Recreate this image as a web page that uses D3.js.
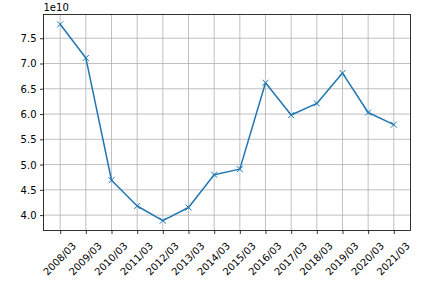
<!DOCTYPE html>
<html lang="en">
<head>
<meta charset="utf-8">
<style>
  body { margin: 0; background: #fff; }
  svg text { font-family: "DejaVu Sans", sans-serif; font-size: 10px; fill: #000; }
</style>
</head>
<body>
<svg id="chart" width="432" height="288"></svg>
<script src="https://d3js.org/d3.v7.min.js"></script>
<script>
// data (values in units of 1e10)
var periods = ["2008/03", "2009/03", "2010/03", "2011/03", "2012/03", "2013/03", "2014/03",
               "2015/03", "2016/03", "2017/03", "2018/03", "2019/03", "2020/03", "2021/03"];
var values = [7.775, 7.11, 4.69, 4.18, 3.89, 4.15, 4.80, 4.91, 6.62, 5.98, 6.21, 6.81, 6.03, 5.79];
var yTicks = [4.0, 4.5, 5.0, 5.5, 6.0, 6.5, 7.0, 7.5];

var mLeft = 43.5, mRight = 410.5, mTop = 14.5, mBottom = 230.5;
var svg = d3.select("#chart");

// matplotlib style margins of 5%
var n = periods.length;
var x = d3.scaleLinear().domain([-0.65, n - 1 + 0.65]).range([mLeft, mRight]);
var ymin = d3.min(values), ymax = d3.max(values), pad = (ymax - ymin) * 0.05;
var y = d3.scaleLinear().domain([ymin - pad, ymax + pad]).range([mBottom, mTop]);

// grid
var grid = svg.append("g").attr("stroke", "#b0b0b0").attr("stroke-width", 0.8);
periods.forEach(function(p, i) {
  grid.append("line").attr("x1", x(i)).attr("x2", x(i)).attr("y1", mTop).attr("y2", mBottom);
});
yTicks.forEach(function(t) {
  grid.append("line").attr("x1", mLeft).attr("x2", mRight).attr("y1", y(t)).attr("y2", y(t));
});

// axes
var xAxis = svg.append("g").attr("transform", "translate(0," + mBottom + ")")
  .call(d3.axisBottom(x).tickValues(d3.range(n)).tickSize(3.5).tickPadding(3.5).tickFormat(function(i) { return periods[i]; }));
var yAxis = svg.append("g").attr("transform", "translate(" + mLeft + ",0)")
  .call(d3.axisLeft(y).tickValues(yTicks).tickSize(3.5).tickPadding(3.5).tickFormat(d3.format(".1f")));
[xAxis, yAxis].forEach(function(a) {
  a.select(".domain").remove();
  a.selectAll("line").attr("stroke", "#000").attr("stroke-width", 0.8);
});
yAxis.selectAll("text").attr("dy", "0.35em");

// rotate x labels 45deg, centred under the tick like matplotlib
xAxis.selectAll("text").each(function() {
  var w = this.getComputedTextLength();
  var bh = (w + 11.6) * Math.SQRT1_2;
  d3.select(this).attr("y", null).attr("dy", null)
    .attr("text-anchor", "middle")
    .attr("dominant-baseline", "central")
    .attr("transform", "translate(-1," + (9.5 + bh / 2) + ") rotate(-45)");
});

// spines
svg.append("rect").attr("x", mLeft).attr("y", mTop).attr("width", mRight - mLeft).attr("height", mBottom - mTop)
  .attr("fill", "none").attr("stroke", "#000").attr("stroke-width", 0.8);

// offset text
svg.append("text").attr("x", mLeft).attr("y", 11).text("1e10");

// line and markers
var line = d3.line().x(function(d, i) { return x(i); }).y(function(d) { return y(d); });
svg.append("path").datum(values).attr("d", line)
  .attr("fill", "none").attr("stroke", "#1f77b4").attr("stroke-width", 1.5).attr("stroke-linejoin", "round");
var s = 3;
svg.append("g").selectAll("path.m").data(values).enter().append("path")
  .attr("class", "m")
  .attr("d", function(d, i) {
    var cx = x(i), cy = y(d);
    return "M" + (cx - s) + "," + (cy - s) + "L" + (cx + s) + "," + (cy + s) +
           "M" + (cx - s) + "," + (cy + s) + "L" + (cx + s) + "," + (cy - s);
  })
  .attr("stroke", "#1f77b4").attr("stroke-width", 1);
</script>
</body>
</html>
